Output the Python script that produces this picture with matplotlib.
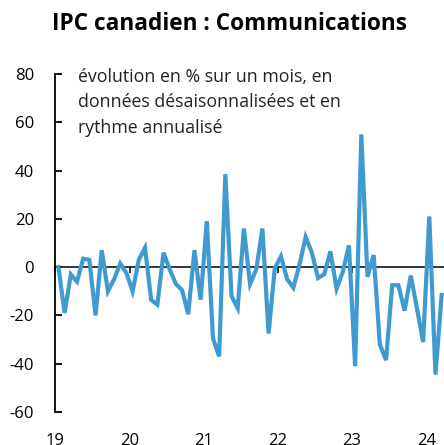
import numpy as np
import pandas as pd
import matplotlib
matplotlib.use('Agg')
import matplotlib.pyplot as plt

# monthly CPI communications, % m/m saar, Jan 2019 - Mar 2024
values_2019 = [0, -19, -3, -6, 3.5, 3, -20, 7, -10, -5, 1.5, -2.5]
values_2020 = [-10, 3, 8, -13.5, -15.5, 6, -1, -7, -9.5, -19.5, 7, -13.5]
values_2021 = [19, -29.5, -37, 38.5, -12, -17, 16, -7, -1, 16, -27.5, -0.5]
values_2022 = [4.5, -5, -8.5, 1, 12.5, 6, -4.5, -3, 6.5, -9, -2, 9]
values_2023 = [-41, 55, -4, 5, -32, -38.5, -7.5, -7.5, -18, -3.5, -17, -31]
values_2024 = [21, -44.5, -11.5]

values = values_2019 + values_2020 + values_2021 + values_2022 + values_2023 + values_2024
dates = pd.date_range('2019-01-01', periods=len(values), freq='MS')
# place each point at mid-month on a decimal-year axis
x = dates.year + (dates.month - 0.5) / 12

year_ticks = [2019, 2020, 2021, 2022, 2023, 2024]
year_labels = ['19', '20', '21', '22', '23', '24']
y_ticks = [-60, -40, -20, 0, 20, 40, 60, 80]

title = 'IPC canadien : Communications'
note = 'évolution en % sur un mois, en\ndonnées désaisonnalisées et en\nrythme annualisé'

plt.rcParams['font.family'] = ['Open Sans', 'DejaVu Sans']
blue = '#3f9bcf'

fig = plt.figure(figsize=(4.44, 4.45), dpi=100)
ax = fig.add_axes([55 / 444, 33 / 445, 389 / 444, 338 / 445])

ax.plot(x, values, color=blue, linewidth=3.0, solid_joinstyle='miter', zorder=3)
ax.axhline(0, color='black', linewidth=1.1, zorder=2)

ax.set_ylim(-60, 80)
ax.set_xlim(2019 - 0.005, 2024.24)

for side in ['top', 'right', 'bottom']:
    ax.spines[side].set_visible(False)
ax.spines['left'].set_linewidth(1.3)

ax.set_yticks(y_ticks)
ax.set_yticklabels([str(v) for v in y_ticks])
ax.tick_params(axis='y', direction='in', length=5, width=1.3, pad=15, labelsize=12)

ax.set_xticks(year_ticks)
ax.set_xticklabels(year_labels)
ax.tick_params(axis='x', length=0, pad=15, labelsize=12)

# small tick marks on the zero line
zero_frac = (0 - (-60)) / (80 - (-60))
sec = ax.secondary_xaxis(zero_frac)
sec.set_xticks(year_ticks)
sec.set_xticklabels([])
sec.tick_params(direction='out', length=4, width=1.1)
sec.spines['bottom'].set_visible(False)
sec.spines['top'].set_visible(False)

fig.text(78 / 444, 0.848, note, fontsize=12.8,
         va='top', ha='left', linespacing=1.54, color='#222222')
fig.text(0.516, 0.946, title, ha='center', va='center', fontsize=16.3, fontweight='bold')

plt.savefig('out.png', dpi=100)
